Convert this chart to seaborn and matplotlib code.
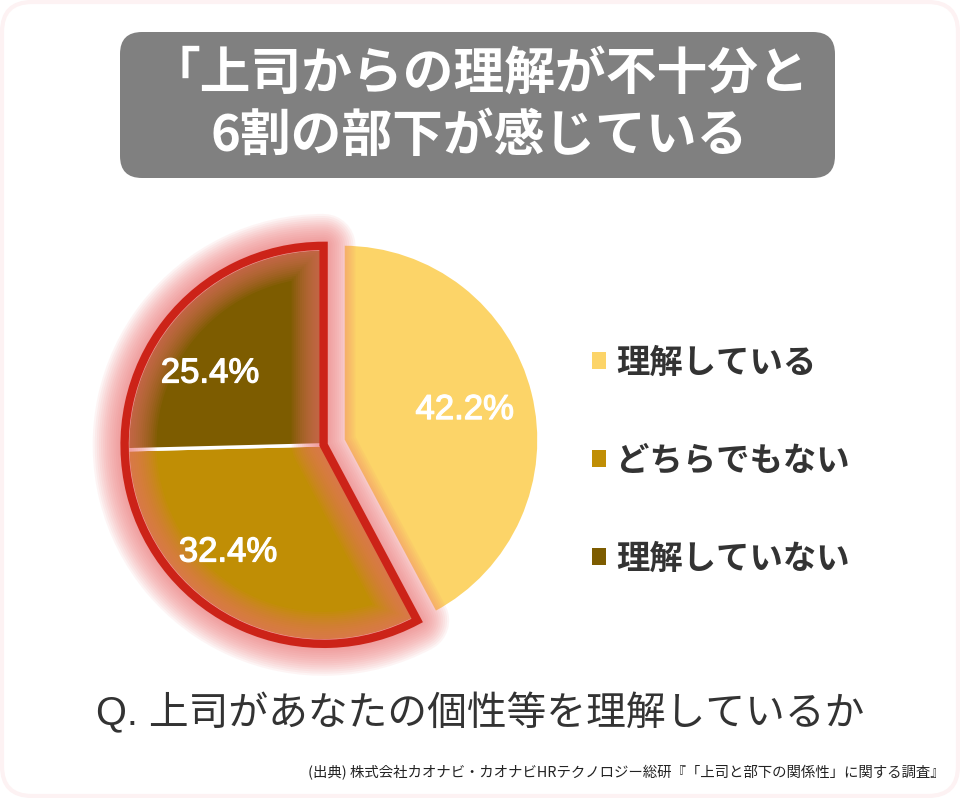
import numpy as np
import matplotlib
matplotlib.use("Agg")
import matplotlib.pyplot as plt
import matplotlib.patheffects as pe
from matplotlib.patches import FancyBboxPatch, Wedge, Patch
import seaborn as sns

# データ
labels = ["理解している", "どちらでもない", "理解していない"]
values = [42.2, 32.4, 25.4]
colors = ["#fcd468", "#c08e05", "#7d5c00"]
title_lines = ["「上司からの理解が不十分と", "6割の部下が感じている"]
question = "Q. 上司があなたの個性等を理解しているか"
source = "(出典) 株式会社カオナビ・カオナビHRテクノロジー総研『「上司と部下の関係性」に関する調査』"

sns.set_theme(style="white")
plt.rcParams['font.family'] = ['Noto Sans CJK JP', 'DejaVu Sans']
latin = ['Liberation Sans', 'Noto Sans CJK JP']

W, H = 960, 798
fig = plt.figure(figsize=(W / 100, H / 100), dpi=100)
fig.patch.set_facecolor("white")
ax = fig.add_axes([0, 0, 1, 1])

wedges, texts, autotexts = ax.pie(
    values, colors=colors, startangle=90, counterclock=False,
    center=(343, H - 440), radius=196, autopct="%.1f%%", pctdistance=0.64,
    wedgeprops=dict(edgecolor="white", linewidth=2.5),
    textprops=dict(color="white", fontsize=25, family=latin))

# 2つのスライスをまとめて外へずらす
th1 = wedges[2].theta1
th2 = wedges[1].theta2
mid = np.deg2rad((th1 + th2) / 2)
shift = 20 * np.array([np.cos(mid), np.sin(mid)])
for w in wedges[1:]:
    w.set_center(np.array(w.center) + shift)

# ラベル位置（ずらしたスライス）
autotexts[1].set_position((228, H - 552))
autotexts[2].set_position((210, H - 373))
for t in autotexts:
    t.set_zorder(6)
    t.set_path_effects([pe.withStroke(linewidth=0.9, foreground="white")])

# 赤い枠 + グロー
outline = Wedge(wedges[1].center, wedges[1].r + 3, th1, th2, fill=False,
                edgecolor="#cc2318", linewidth=6, joinstyle="miter", zorder=4)
glow = [pe.Stroke(linewidth=lw, foreground="#ee7272", alpha=0.075,
                  joinstyle="round")
        for lw in range(46, 6, -3)]
outline.set_path_effects(glow + [pe.Normal()])
ax.add_patch(outline)

# タイトル
ax.add_patch(FancyBboxPatch((120, H - 178), 715, 146,
                            boxstyle="round,pad=0,rounding_size=22",
                            fc="#808080", ec="none", zorder=1))
ax.text(479, H - 74, title_lines[0], ha="center", va="center", fontsize=36.5,
        weight="bold", color="white", zorder=2)
ax.text(479, H - 136, title_lines[1], ha="center", va="center", fontsize=36.5,
        weight="bold", color="white", zorder=2)

# 凡例
handles = [Patch(facecolor=c, edgecolor="none") for c in colors]
ax.legend(handles, labels, loc="center left", bbox_to_anchor=(592, H - 461),
          bbox_transform=ax.transData, frameon=False,
          prop=dict(size=24, weight="bold"), labelcolor="#333333",
          handlelength=0.42, handleheight=0.42, handletextpad=0.3,
          labelspacing=1.95, borderpad=0, borderaxespad=0)

ax.text(480, H - 713, question, ha="center", va="center", fontsize=28.6,
        color="#333333", family=latin)
ax.text(945, H - 773, source, ha="right", va="center", fontsize=10.4,
        color="#222222")

# うっすらピンクの枠
ax.add_patch(FancyBboxPatch((2, 2), W - 4, H - 4,
                            boxstyle="round,pad=0,rounding_size=30",
                            fc="none", ec="#fdf2f3", lw=3))

ax.set_xlim(0, W)
ax.set_ylim(0, H)
ax.set_aspect("auto")
ax.set_axis_off()

fig.savefig("out.png", dpi=100)
